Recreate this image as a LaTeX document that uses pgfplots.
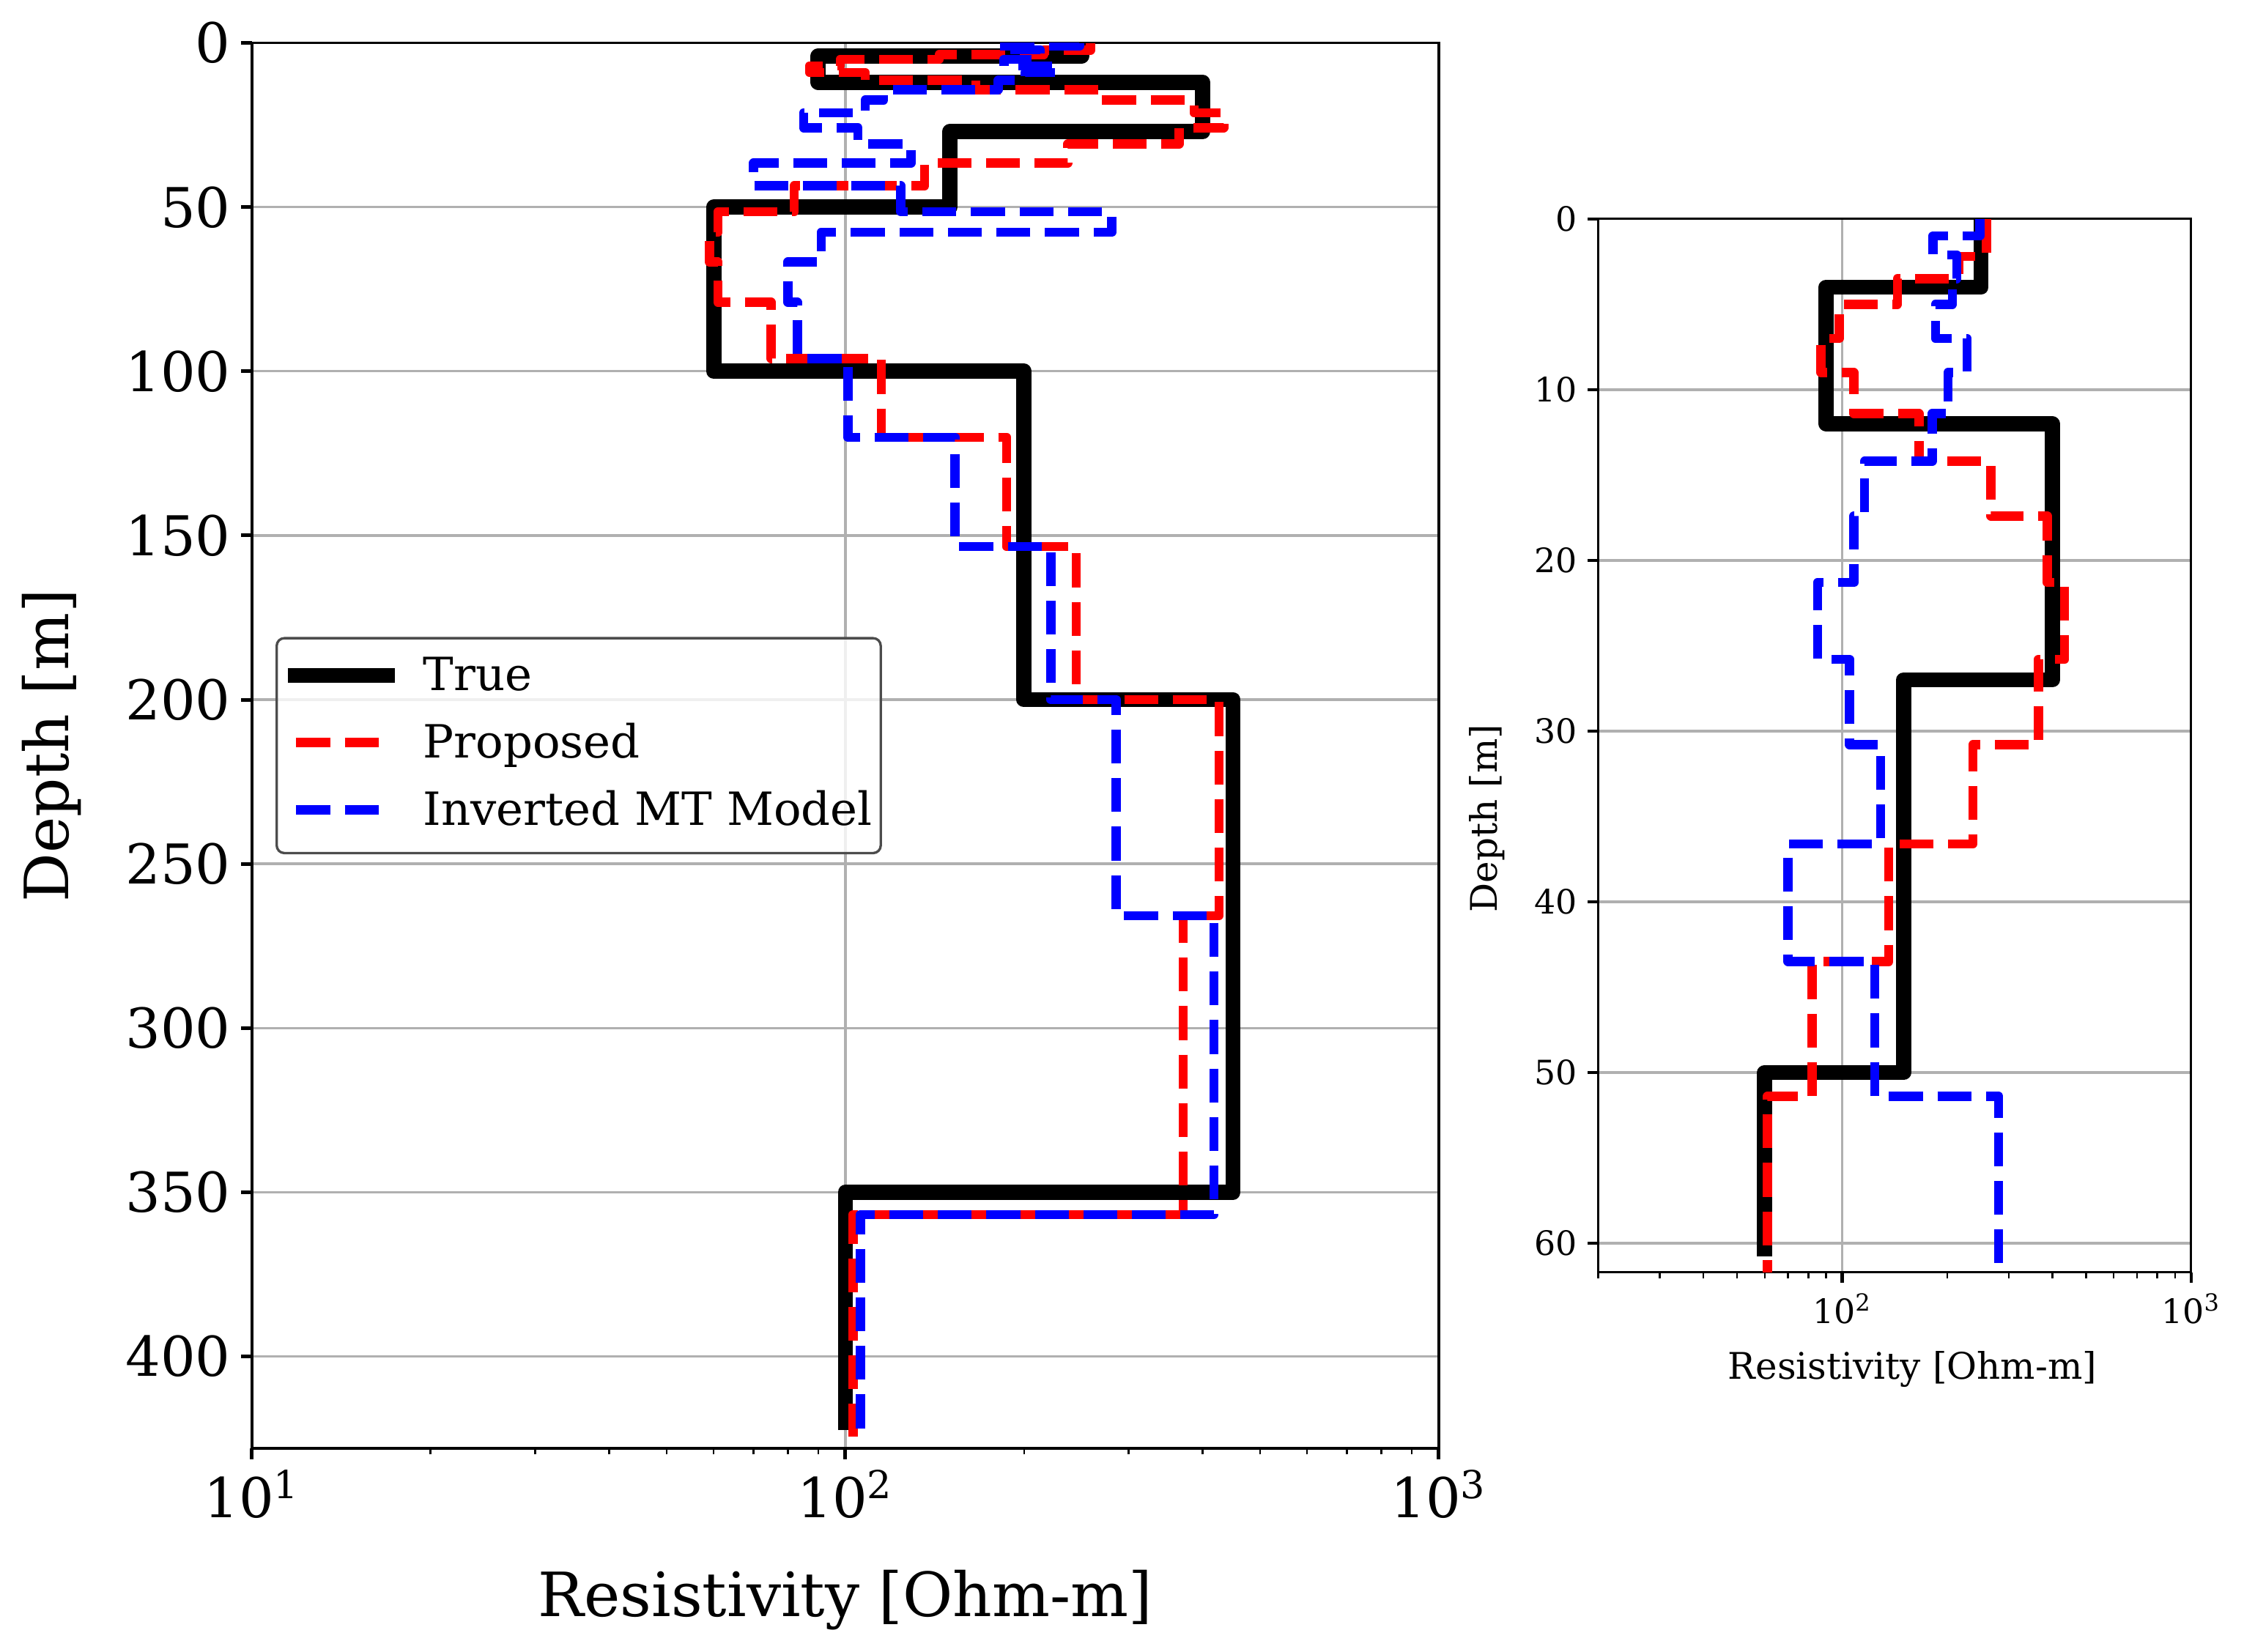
\documentclass[border=0pt]{standalone}
\usepackage{fontspec}
\setmainfont{DejaVu Serif}
\usepackage{pgfplots}
\usepackage{pgfplotstable}
\pgfplotsset{compat=1.18}

\definecolor{gridgray}{HTML}{B0B0B0}
\definecolor{mplred}{HTML}{FF0000}
\definecolor{mplblue}{HTML}{0000FF}

% resistivity (Ohm-m) against depth (m), as steps
\pgfplotstableread{
rho depth
250 0
250 4
90 4
90 12
400 12
400 27
150 27
150 50
60 50
60 100
200 100
200 200
450 200
450 350
100 350
100 420
}\trueL

\pgfplotstableread{
rho depth
259 0
259 2.2
216 2.2
216 3.5
144 3.5
144 5.0
98 5.0
98 7.0
87 7.0
87 9.0
108 9.0
108 11.4
166 11.4
166 14.2
267 14.2
267 17.4
387 17.4
387 21.3
434 21.3
434 25.8
365 25.8
365 30.8
237 30.8
237 36.6
136 36.6
136 43.5
82 43.5
82 51.4
61 51.4
61 57.7
59 57.7
59 66.7
61 66.7
61 79.0
75 79.0
75 96.1
115 96.1
115 120.1
187 120.1
187 153.4
245 153.4
245 200
426 200
426 265.8
371 265.8
371 356.8
103 356.8
103 424.5
}\redL

\pgfplotstableread{
rho depth
248 0
248 1.0
182 1.0
182 2.1
213 2.1
213 3.5
207 3.5
207 5.0
185 5.0
185 7.0
228 7.0
228 9.0
201 9.0
201 11.4
181 11.4
181 14.2
116 14.2
116 17.4
108 17.4
108 21.3
85 21.3
85 25.8
105 25.8
105 30.8
129 30.8
129 36.6
70 36.6
70 43.5
124 43.5
124 51.4
281 51.4
281 57.7
91 57.7
91 66.7
80 66.7
80 79.0
83 79.0
83 96.1
101 96.1
101 120.1
153 120.1
153 153.4
222 153.4
222 200
286 200
286 265.8
418 265.8
418 356.8
106 356.8
106 425
}\blueL

% zoomed panel (top 62 m)
\pgfplotstableread{
rho depth
250 0
250 4
90 4
90 12
400 12
400 27
150 27
150 50
60 50
60 60.3
}\trueR

\pgfplotstableread{
rho depth
259 0
259 2.2
216 2.2
216 3.5
144 3.5
144 5.0
98 5.0
98 7.0
87 7.0
87 9.0
108 9.0
108 11.4
166 11.4
166 14.2
267 14.2
267 17.4
387 17.4
387 21.3
434 21.3
434 25.8
365 25.8
365 30.8
237 30.8
237 36.6
136 36.6
136 43.5
82 43.5
82 51.4
61 51.4
61 64
}\redR

\pgfplotstableread{
rho depth
248 0
248 1.0
182 1.0
182 2.1
213 2.1
213 3.5
207 3.5
207 5.0
185 5.0
185 7.0
228 7.0
228 9.0
201 9.0
201 11.4
181 11.4
181 14.2
116 14.2
116 17.4
108 17.4
108 21.3
85 21.3
85 25.8
105 25.8
105 30.8
129 30.8
129 36.6
70 36.6
70 43.5
124 43.5
124 51.4
281 51.4
281 64
}\blueR

\tikzset{
  truestyle/.style={black, line width=5pt, line join=round, line cap=rect},
  propstyle/.style={mplred, line width=3pt, dash pattern=on 11.1pt off 4.8pt, line join=round},
  mtstyle/.style={mplblue, line width=3pt, dash pattern=on 11.1pt off 4.8pt, line join=round},
}
\pgfplotsset{
  solidleg/.style={legend image code/.code={
      \path[draw=none, fill=none] (0pt,1pt) -- (35pt,1pt);
      \draw[##1, line cap=butt, rounded corners=0pt] (0pt,1pt) -- (35pt,1pt);}},
  dashleg/.style={legend image code/.code={
      \path[draw=none, fill=none] (0pt,1pt) -- (35pt,1pt);
      \draw[##1, rounded corners=0pt] (2.7pt,1pt) -- (29.7pt,1pt);}},
}

\begin{document}
\begin{tikzpicture}
\useasboundingbox (0pt,0pt) rectangle (735.12pt,-540.96pt);

\begin{axis}[
  scale only axis,
  xmode=log,
  y dir=reverse,
  axis line style={line width=0.8pt},
  tick align=outside,
  tick pos=left,
  major tick length=3.5pt,
  minor tick length=2pt,
  major tick style={black, line width=1.2pt},
  minor tick style={black, line width=0.6pt},
  grid=major,
  major grid style={gridgray, line width=0.8pt},
  /pgf/number format/assume math mode=true,
  at={(82.54pt,-14.06pt)}, anchor=north west,
  width=388.8pt, height=460.4pt,
  xmin=10, xmax=1000, ymin=0, ymax=428,
  xtick={10,100,1000},
  minor xtick={20,30,40,50,60,70,80,90,200,300,400,500,600,700,800,900},
  xticklabels={10\textsuperscript{1},10\textsuperscript{2},10\textsuperscript{3}},
  ytick={0,50,...,400},
  tick label style={font=\fontsize{18}{21.6}\selectfont},
  xlabel={Resistivity [Ohm-m]},
  ylabel={Depth [m]},
  label style={font=\fontsize{20}{24}\selectfont},
  xlabel style={at={(axis description cs:0.5,-0.1199)}, anchor=base, inner sep=0pt},
  ylabel style={at={(axis description cs:-0.1436,0.5)}, anchor=south, inner sep=0pt},
  legend cell align=left,
  legend style={at={(axis description cs:0.0198,0.5)}, anchor=west,
    draw=black!70, line width=0.8pt, rounded corners=2.5pt,
    fill=white, fill opacity=0.8, text opacity=1,
    font=\fontsize{15}{18}\selectfont,
    inner xsep=1.2pt, inner ysep=4.9pt, row sep=5.4pt, column sep=5.3pt,
    nodes={inner xsep=1.5pt, inner ysep=1pt, text height=11.3pt, text depth=3.3pt}},
]
\addplot[truestyle, solidleg] table[x=rho, y=depth] {\trueL};
\addlegendentry{True}
\addplot[propstyle, dashleg] table[x=rho, y=depth] {\redL};
\addlegendentry{Proposed}
\addplot[mtstyle, dashleg] table[x=rho, y=depth] {\blueL};
\addlegendentry{Inverted MT Model}
\end{axis}

\begin{axis}[
  scale only axis,
  xmode=log,
  y dir=reverse,
  axis line style={line width=0.8pt},
  tick align=outside,
  tick pos=left,
  major tick length=3.5pt,
  minor tick length=2pt,
  major tick style={black, line width=1pt},
  minor tick style={black, line width=0.6pt},
  grid=major,
  major grid style={gridgray, line width=0.8pt},
  /pgf/number format/assume math mode=true,
  at={(523.58pt,-71.71pt)}, anchor=north west,
  width=194.2pt, height=345.1pt,
  xmin=20, xmax=1000, ymin=0, ymax=61.7,
  xtick={100,1000},
  minor xtick={20,30,40,50,60,70,80,90,200,300,400,500,600,700,800,900},
  xticklabels={10\textsuperscript{2},10\textsuperscript{3}},
  ytick={0,10,...,60},
  tick label style={font=\fontsize{11}{13.2}\selectfont},
  xlabel={Resistivity [Ohm-m]},
  ylabel={Depth [m]},
  label style={font=\fontsize{12}{14.4}\selectfont},
  xlabel style={at={(axis description cs:0.53,-0.1017)}, anchor=base, inner sep=0pt},
  ylabel style={at={(axis description cs:-0.1565,0.431)}, anchor=south, inner sep=0pt},
]
\addplot[truestyle] table[x=rho, y=depth] {\trueR};
\addplot[propstyle] table[x=rho, y=depth] {\redR};
\addplot[mtstyle] table[x=rho, y=depth] {\blueR};
\end{axis}
\end{tikzpicture}
\end{document}
